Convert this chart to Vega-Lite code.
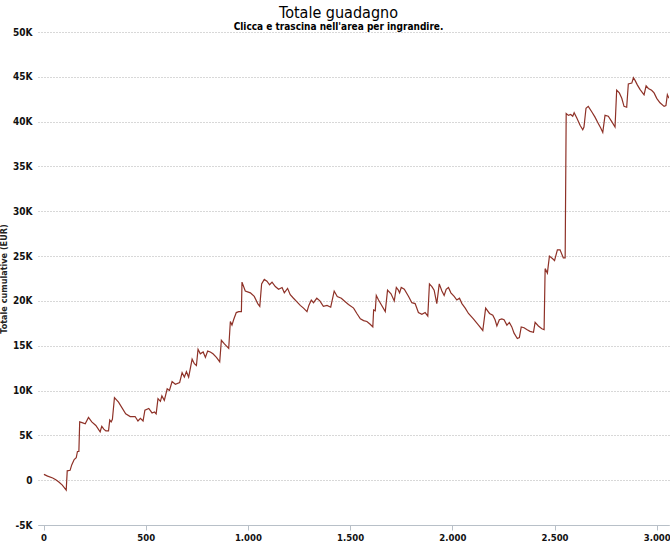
{
 "$schema": "https://vega.github.io/schema/vega-lite/v6.json",
 "width": 631, "height": 493,
 "autosize": {"type": "none"},
 "padding": {"left": 38, "top": 32, "right": 1, "bottom": 16},
 "background": "white",
 "title": {"text": "Totale guadagno", "subtitle": "Clicca e trascina nell'area per ingrandire.", "anchor": "middle", "dx": -15, "offset": -5,
   "font": "Liberation Sans Narrow, DejaVu Sans Condensed, Roboto", "fontSize": 16, "fontWeight": "normal", "color": "#000",
   "subtitleFont": "Liberation Sans Narrow, DejaVu Sans Condensed, Roboto", "subtitleFontSize": 10, "subtitleFontWeight": "bold", "subtitleColor": "#000", "subtitlePadding": 1},
 "data": {"values": [
  {"n":2,"v":650},{"n":20,"v":450},{"n":45,"v":250},{"n":60,"v":50},{"n":75,"v":-200},{"n":92,"v":-550},{"n":111,"v":-1100},
  {"n":116,"v":1040},{"n":130,"v":1100},{"n":138,"v":1700},{"n":150,"v":2300},{"n":160,"v":2500},{"n":166,"v":3200},{"n":173,"v":3200},
  {"n":177,"v":6500},{"n":192,"v":6400},{"n":204,"v":6300},{"n":220,"v":7000},{"n":236,"v":6500},{"n":256,"v":6100},{"n":277,"v":5400},
  {"n":285,"v":6000},{"n":295,"v":5700},{"n":305,"v":5500},{"n":318,"v":5500},{"n":324,"v":6700},{"n":331,"v":6500},{"n":337,"v":6800},
  {"n":347,"v":9200},{"n":367,"v":8700},{"n":402,"v":7400},{"n":424,"v":7100},{"n":448,"v":7100},{"n":462,"v":6600},{"n":474,"v":6900},
  {"n":487,"v":6600},{"n":496,"v":7800},{"n":515,"v":8000},{"n":531,"v":7500},{"n":543,"v":7600},{"n":551,"v":7400},{"n":560,"v":9100},
  {"n":572,"v":8800},{"n":579,"v":9400},{"n":591,"v":8900},{"n":605,"v":10200},{"n":616,"v":10000},{"n":629,"v":11000},{"n":645,"v":10700},
  {"n":666,"v":10900},{"n":678,"v":12000},{"n":689,"v":11500},{"n":699,"v":12100},{"n":710,"v":11500},{"n":727,"v":13500},{"n":738,"v":13000},
  {"n":748,"v":12800},{"n":756,"v":14600},{"n":767,"v":14100},{"n":781,"v":14300},{"n":792,"v":13700},{"n":803,"v":14400},{"n":816,"v":14300},
  {"n":829,"v":14100},{"n":846,"v":13700},{"n":862,"v":13200},{"n":870,"v":15600},{"n":885,"v":15200},{"n":906,"v":14700},{"n":914,"v":17700},
  {"n":922,"v":17300},{"n":930,"v":17900},{"n":943,"v":18700},{"n":955,"v":18800},{"n":968,"v":18800},{"n":971,"v":22100},{"n":987,"v":21100},
  {"n":1012,"v":20900},{"n":1031,"v":20500},{"n":1048,"v":19700},{"n":1058,"v":19400},{"n":1067,"v":21900},{"n":1080,"v":22400},{"n":1093,"v":22200},
  {"n":1106,"v":21800},{"n":1118,"v":22100},{"n":1134,"v":21600},{"n":1150,"v":21300},{"n":1167,"v":21500},{"n":1178,"v":20900},{"n":1194,"v":21400},
  {"n":1207,"v":20700},{"n":1223,"v":20300},{"n":1240,"v":19900},{"n":1256,"v":19500},{"n":1272,"v":19200},{"n":1289,"v":18800},{"n":1298,"v":19500},
  {"n":1310,"v":20100},{"n":1321,"v":19800},{"n":1337,"v":20300},{"n":1352,"v":20000},{"n":1369,"v":19400},{"n":1387,"v":19500},{"n":1405,"v":19300},
  {"n":1422,"v":21100},{"n":1437,"v":20500},{"n":1457,"v":20300},{"n":1476,"v":19900},{"n":1492,"v":19600},{"n":1517,"v":19200},{"n":1533,"v":18600},
  {"n":1550,"v":18000},{"n":1566,"v":17800},{"n":1582,"v":17700},{"n":1598,"v":17400},{"n":1611,"v":17100},{"n":1615,"v":19000},{"n":1623,"v":18900},
  {"n":1628,"v":20600},{"n":1639,"v":20100},{"n":1672,"v":18800},{"n":1683,"v":21200},{"n":1700,"v":20800},{"n":1716,"v":20000},{"n":1726,"v":21500},
  {"n":1736,"v":21200},{"n":1742,"v":20900},{"n":1750,"v":21500},{"n":1765,"v":21300},{"n":1786,"v":20500},{"n":1802,"v":19800},{"n":1818,"v":19700},
  {"n":1834,"v":18700},{"n":1851,"v":18500},{"n":1867,"v":18700},{"n":1880,"v":18300},{"n":1888,"v":21900},{"n":1900,"v":21600},{"n":1911,"v":21200},
  {"n":1924,"v":19700},{"n":1936,"v":21900},{"n":1949,"v":21100},{"n":1960,"v":20600},{"n":1970,"v":21300},{"n":1981,"v":21500},{"n":1993,"v":20900},
  {"n":2009,"v":20500},{"n":2022,"v":20100},{"n":2035,"v":20300},{"n":2047,"v":19700},{"n":2063,"v":19200},{"n":2079,"v":18600},{"n":2103,"v":18000},
  {"n":2128,"v":17300},{"n":2149,"v":16700},{"n":2163,"v":19200},{"n":2182,"v":18600},{"n":2198,"v":18400},{"n":2209,"v":17900},{"n":2218,"v":17200},
  {"n":2230,"v":17900},{"n":2242,"v":18000},{"n":2253,"v":17900},{"n":2267,"v":17300},{"n":2279,"v":17600},{"n":2291,"v":17100},{"n":2302,"v":16400},
  {"n":2318,"v":15800},{"n":2328,"v":15900},{"n":2337,"v":17100},{"n":2351,"v":17000},{"n":2364,"v":16800},{"n":2380,"v":16600},{"n":2397,"v":16500},
  {"n":2405,"v":17600},{"n":2421,"v":17200},{"n":2438,"v":16900},{"n":2449,"v":16800},{"n":2454,"v":23600},{"n":2465,"v":23100},{"n":2475,"v":25000},
  {"n":2491,"v":24700},{"n":2500,"v":24500},{"n":2514,"v":25700},{"n":2527,"v":25700},{"n":2543,"v":24800},{"n":2552,"v":24800},{"n":2557,"v":40900},
  {"n":2568,"v":40700},{"n":2579,"v":40800},{"n":2589,"v":40600},{"n":2596,"v":41000},{"n":2609,"v":40400},{"n":2625,"v":39600},{"n":2638,"v":39100},
  {"n":2644,"v":39400},{"n":2654,"v":41500},{"n":2665,"v":41700},{"n":2682,"v":41100},{"n":2698,"v":40500},{"n":2714,"v":39800},{"n":2726,"v":39300},
  {"n":2736,"v":38800},{"n":2747,"v":40700},{"n":2763,"v":40600},{"n":2780,"v":40000},{"n":2796,"v":39400},{"n":2804,"v":43500},{"n":2817,"v":43200},
  {"n":2829,"v":42600},{"n":2840,"v":41700},{"n":2853,"v":41600},{"n":2861,"v":44200},{"n":2878,"v":44300},{"n":2886,"v":44900},{"n":2894,"v":44600},
  {"n":2905,"v":44100},{"n":2918,"v":43600},{"n":2938,"v":43000},{"n":2948,"v":44000},{"n":2959,"v":43700},{"n":2975,"v":43500},{"n":2987,"v":43200},
  {"n":3000,"v":42600},{"n":3016,"v":42100},{"n":3036,"v":41700},{"n":3045,"v":41800},{"n":3052,"v":43000},{"n":3060,"v":42600}
 ]},
 "mark": {"type": "line", "color": "#8e3127", "strokeWidth": 1.2, "clip": true},
 "encoding": {
  "x": {"field": "n", "type": "quantitative",
    "scale": {"domain": [-27, 3060], "nice": false, "zero": false},
    "axis": {"title": null, "values": [0,500,1000,1500,2000,2500,3000], "labelExpr": "datum.value >= 1000 ? floor(datum.value/1000) + ',' + (datum.value % 1000 === 0 ? '000' : '500') : '' + datum.value", "grid": false,
      "domainColor": "#b8c0c8", "tickColor": "#b8c0c8", "tickSize": 5, "labelPadding": 2,
      "labelFont": "DejaVu Sans Condensed, DejaVu Sans", "labelFontSize": 9.5, "labelFontWeight": "bold", "labelColor": "#111"}},
  "y": {"field": "v", "type": "quantitative",
    "scale": {"domain": [-5000, 50000], "nice": false},
    "axis": {"title": "Totale cumulative (EUR)", "values": [-5000,0,5000,10000,15000,20000,25000,30000,35000,40000,45000,50000],
      "labelExpr": "datum.value === 0 ? '0' : (datum.value/1000) + 'K'",
      "domain": false, "ticks": false, "grid": true, "gridDash": [1,2], "gridColor": "#b0b0b0", "gridWidth": 1,
      "labelPadding": 6, "labelFont": "Liberation Sans Narrow, DejaVu Sans Condensed, Roboto", "labelFontSize": 10, "labelFontWeight": "bold", "labelColor": "#111",
      "titleFont": "Liberation Sans Narrow, DejaVu Sans Condensed, Roboto", "titleFontSize": 9, "titleFontWeight": "bold", "titleColor": "#222", "titlePadding": 4}}
 },
 "config": {"view": {"stroke": null}}
}
